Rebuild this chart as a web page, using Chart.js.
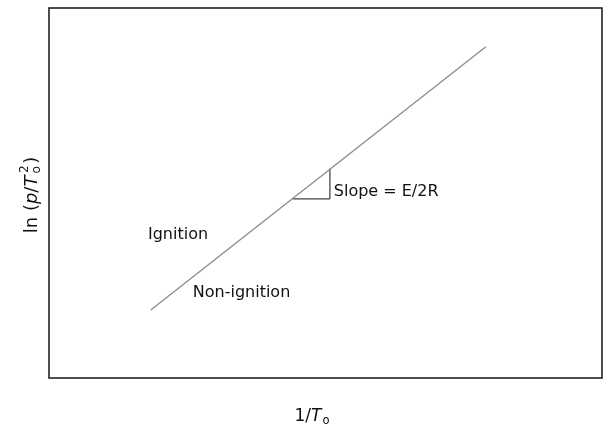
<!DOCTYPE html>
<html>
<head>
<meta charset="utf-8">
<script src="https://cdn.jsdelivr.net/npm/chart.js@4"></script>
<style>
  html, body { margin: 0; padding: 0; background: #fff; }
  #wrap { position: relative; width: 608px; height: 426px; }
</style>
</head>
<body>
<div id="wrap"><canvas id="chart"></canvas></div>
<script>
// boundary line (schematic, arbitrary units 0..100)
const boundaryX = [18.4, 79.0];
const boundaryY = [18.4, 89.5];
// slope triangle legs
const triangleX = [44.1, 50.8, 50.8];
const triangleY = [48.4, 48.4, 56.6];
// region / slope labels
const noteText = ['Slope = E/2R', 'Ignition', 'Non-ignition'];
const noteX = [51.5, 17.9, 26.0];
const noteY = [50.3, 38.6, 23.0];

const font = '"DejaVu Sans", Verdana, sans-serif';

// pieces: [text, style]; style '' | 'i' | 'sub' | 'sup' | 'subsup' (text = "sub|sup", stacked)
function setFont(ctx, s, size) {
  const small = s === 'sub' || s === 'sup' || s === 'subsup';
  ctx.font = (s === 'i' ? 'italic ' : '') + (small ? size * 0.68 : size) + 'px ' + font;
}
function pieceWidth(ctx, t, s, size) {
  setFont(ctx, s, size);
  if (s === 'subsup') {
    const [a, b] = t.split('|');
    return Math.max(ctx.measureText(a).width, ctx.measureText(b).width) + 4;
  }
  if (s === 'sub') return ctx.measureText(t).width + 1;
  return ctx.measureText(t).width;
}
function richWidth(ctx, parts, size) {
  return parts.reduce((w, [t, s]) => w + pieceWidth(ctx, t, s, size), 0);
}
function richText(ctx, parts, x, y, size) {
  let cx = x;
  parts.forEach(([t, s]) => {
    const w = pieceWidth(ctx, t, s, size);
    setFont(ctx, s, size);
    if (s === 'subsup') {
      const [a, b] = t.split('|');
      ctx.fillText(a, cx + 2, y + size * 0.18);
      ctx.fillText(b, cx + 2.5, y - size * 0.5);
    } else if (s === 'sub') {
      ctx.fillText(t, cx + 1, y + size * 0.18);
    } else if (s === 'sup') {
      ctx.fillText(t, cx, y - size * 0.5);
    } else {
      ctx.fillText(t, cx, y);
    }
    cx += w;
  });
}

const extras = {
  id: 'extras',
  afterDatasetsDraw(chart) {
    const { ctx, chartArea: a, scales } = chart;
    ctx.save();
    // frame
    ctx.strokeStyle = '#222';
    ctx.lineWidth = 1.6;
    ctx.strokeRect(a.left, a.top, a.right - a.left, a.bottom - a.top);
    // notes
    ctx.fillStyle = '#111';
    ctx.textBaseline = 'middle';
    ctx.textAlign = 'left';
    ctx.font = '16px ' + font;
    noteText.forEach((t, i) => {
      ctx.fillText(t, scales.x.getPixelForValue(noteX[i]), scales.y.getPixelForValue(noteY[i]));
    });
    // axis titles
    ctx.textBaseline = 'alphabetic';
    const xt = [['1/', ''], ['T', 'i'], ['o', 'sub']];
    const xw = richWidth(ctx, xt, 17);
    richText(ctx, xt, 312 - xw / 2, 421, 17);
    const yt = [['ln (', ''], ['p', 'i'], ['/', ''], ['T', 'i'], ['o|2', 'subsup'], [')', '']];
    const yw = richWidth(ctx, yt, 18);
    ctx.translate(37, 195);
    ctx.rotate(-Math.PI / 2);
    richText(ctx, yt, -yw / 2, 0, 18);
    ctx.restore();
  }
};

new Chart(document.getElementById('chart'), {
  type: 'scatter',
  data: {
    datasets: [
      {
        data: boundaryX.map((x, i) => ({ x, y: boundaryY[i] })),
        showLine: true,
        borderColor: '#8a8a8a',
        borderWidth: 1.3,
        pointRadius: 0
      },
      {
        data: triangleX.map((x, i) => ({ x, y: triangleY[i] })),
        showLine: true,
        borderColor: '#111',
        borderWidth: 1,
        pointRadius: 0
      }
    ]
  },
  options: {
    responsive: true,
    maintainAspectRatio: false,
    animation: false,
    layout: { padding: { left: 49, right: 6, top: 8, bottom: 48 } },
    plugins: { legend: { display: false }, tooltip: { enabled: false } },
    scales: {
      x: { type: 'linear', min: 0, max: 100, display: false },
      y: { type: 'linear', min: 0, max: 100, display: false }
    }
  },
  plugins: [extras]
});
</script>
</body>
</html>
